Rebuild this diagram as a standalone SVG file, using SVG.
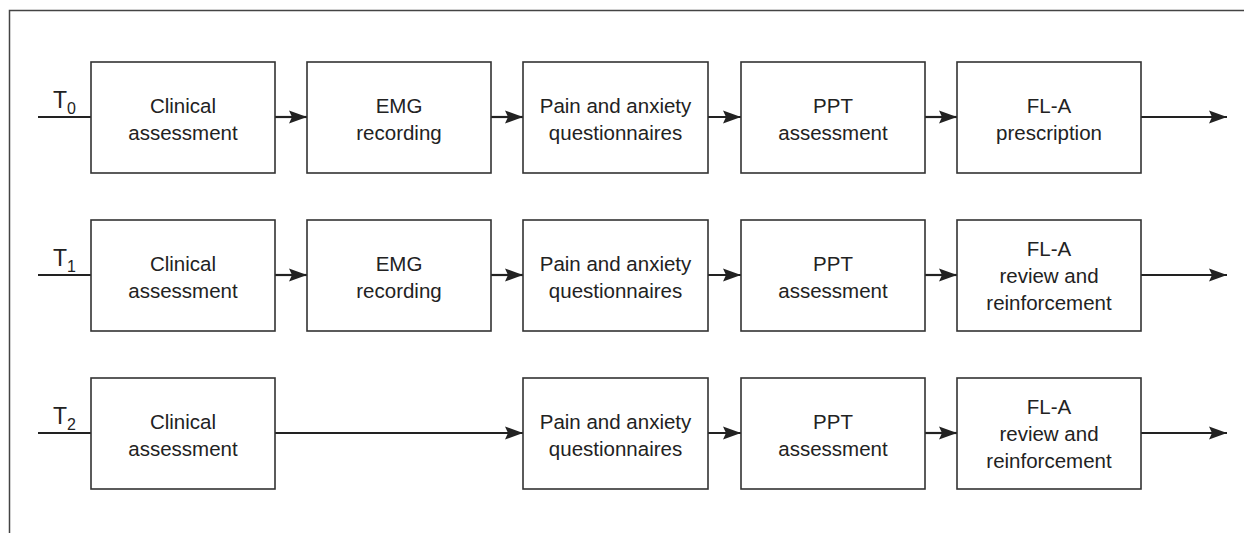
<svg xmlns="http://www.w3.org/2000/svg" width="1244" height="533" viewBox="0 0 1244 533">
<style>
.box{fill:#fff;stroke:#333;stroke-width:1.6}
.ln{fill:none;stroke:#222;stroke-width:2.2}
.t{font-family:"Liberation Sans",Arial,sans-serif;font-size:20.5px;fill:#222;text-anchor:middle}
.tl{font-family:"Liberation Sans",Arial,sans-serif;font-size:23px;fill:#222}
.sub{font-size:16px}
.frame{fill:none;stroke:#444;stroke-width:1.5}
</style>
<defs>
<marker id="ah" markerWidth="18" markerHeight="14" refX="18" refY="7" orient="auto" markerUnits="userSpaceOnUse">
<path d="M0,0.5 L18,7 L0,13.5 L3,7 Z" fill="#222"/>
</marker>
</defs>
<path class="frame" d="M9.5,533 V10.5 H1244"/>
<g id="labels">
<text class="tl" x="53" y="108">T<tspan class="sub" dx="0" dy="6">0</tspan></text>
<text class="tl" x="53" y="266">T<tspan class="sub" dx="0" dy="6">1</tspan></text>
<text class="tl" x="53" y="424">T<tspan class="sub" dx="0" dy="6">2</tspan></text>
</g>
<g id="connectors">
<line class="ln" x1="38" y1="117" x2="91" y2="117"/>
<line class="ln" x1="275" y1="117" x2="307" y2="117" marker-end="url(#ah)"/>
<line class="ln" x1="491" y1="117" x2="523" y2="117" marker-end="url(#ah)"/>
<line class="ln" x1="708" y1="117" x2="741" y2="117" marker-end="url(#ah)"/>
<line class="ln" x1="925" y1="117" x2="957" y2="117" marker-end="url(#ah)"/>
<line class="ln" x1="1141" y1="117" x2="1227" y2="117" marker-end="url(#ah)"/>
<line class="ln" x1="38" y1="275" x2="91" y2="275"/>
<line class="ln" x1="275" y1="275" x2="307" y2="275" marker-end="url(#ah)"/>
<line class="ln" x1="491" y1="275" x2="523" y2="275" marker-end="url(#ah)"/>
<line class="ln" x1="708" y1="275" x2="741" y2="275" marker-end="url(#ah)"/>
<line class="ln" x1="925" y1="275" x2="957" y2="275" marker-end="url(#ah)"/>
<line class="ln" x1="1141" y1="275" x2="1227" y2="275" marker-end="url(#ah)"/>
<line class="ln" x1="38" y1="433" x2="91" y2="433"/>
<line class="ln" x1="275" y1="433" x2="523" y2="433" marker-end="url(#ah)"/>
<line class="ln" x1="708" y1="433" x2="741" y2="433" marker-end="url(#ah)"/>
<line class="ln" x1="925" y1="433" x2="957" y2="433" marker-end="url(#ah)"/>
<line class="ln" x1="1141" y1="433" x2="1227" y2="433" marker-end="url(#ah)"/>
</g>
<g id="r0n1"><rect class="box" x="91" y="62" width="184" height="111"/><text class="t" x="183" y="113">Clinical</text><text class="t" x="183" y="140">assessment</text></g>
<g id="r0n2"><rect class="box" x="307" y="62" width="184" height="111"/><text class="t" x="399" y="113">EMG</text><text class="t" x="399" y="140">recording</text></g>
<g id="r0n3"><rect class="box" x="523" y="62" width="185" height="111"/><text class="t" x="615.5" y="113">Pain and anxiety</text><text class="t" x="615.5" y="140">questionnaires</text></g>
<g id="r0n4"><rect class="box" x="741" y="62" width="184" height="111"/><text class="t" x="833" y="113">PPT</text><text class="t" x="833" y="140">assessment</text></g>
<g id="r0n5"><rect class="box" x="957" y="62" width="184" height="111"/><text class="t" x="1049" y="113">FL-A</text><text class="t" x="1049" y="140">prescription</text></g>
<g id="r1n1"><rect class="box" x="91" y="220" width="184" height="111"/><text class="t" x="183" y="271">Clinical</text><text class="t" x="183" y="298">assessment</text></g>
<g id="r1n2"><rect class="box" x="307" y="220" width="184" height="111"/><text class="t" x="399" y="271">EMG</text><text class="t" x="399" y="298">recording</text></g>
<g id="r1n3"><rect class="box" x="523" y="220" width="185" height="111"/><text class="t" x="615.5" y="271">Pain and anxiety</text><text class="t" x="615.5" y="298">questionnaires</text></g>
<g id="r1n4"><rect class="box" x="741" y="220" width="184" height="111"/><text class="t" x="833" y="271">PPT</text><text class="t" x="833" y="298">assessment</text></g>
<g id="r1n5"><rect class="box" x="957" y="220" width="184" height="111"/><text class="t" x="1049" y="256">FL-A</text><text class="t" x="1049" y="283">review and</text><text class="t" x="1049" y="310">reinforcement</text></g>
<g id="r2n1"><rect class="box" x="91" y="378" width="184" height="111"/><text class="t" x="183" y="429">Clinical</text><text class="t" x="183" y="456">assessment</text></g>
<g id="r2n3"><rect class="box" x="523" y="378" width="185" height="111"/><text class="t" x="615.5" y="429">Pain and anxiety</text><text class="t" x="615.5" y="456">questionnaires</text></g>
<g id="r2n4"><rect class="box" x="741" y="378" width="184" height="111"/><text class="t" x="833" y="429">PPT</text><text class="t" x="833" y="456">assessment</text></g>
<g id="r2n5"><rect class="box" x="957" y="378" width="184" height="111"/><text class="t" x="1049" y="414">FL-A</text><text class="t" x="1049" y="441">review and</text><text class="t" x="1049" y="468">reinforcement</text></g>
</svg>
